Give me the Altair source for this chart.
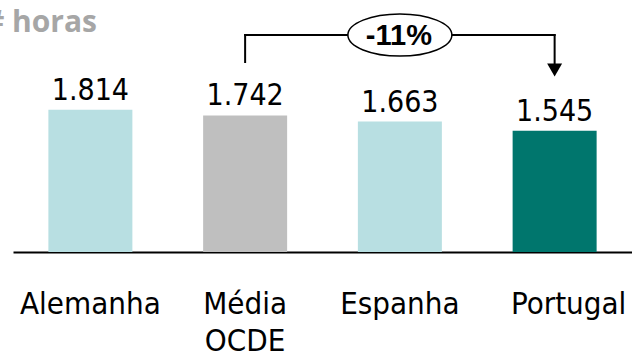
import altair as alt
import pandas as pd

# Annual hours worked per worker
categories = ["Alemanha", "Média OCDE", "Espanha", "Portugal"]
hours = [1814, 1742, 1663, 1545]
bar_colors = ["#B8DFE2", "#BFBFBF", "#B8DFE2", "#00766D"]
unit_title = "# horas"

# Comparison drawn by the bracket: OCDE average -> Portugal
ref_idx, target_idx = 1, 3
change_pct = round((hours[target_idx] - hours[ref_idx]) / hours[ref_idx] * 100)
change_label = f"{change_pct}%"

# Vertical extent of the value axis and bracket levels (in hours)
Y_MAX = 3214
BRACKET_LEVEL = 2767
BRACKET_START = 2423
ARROW_STEM_END = 2410
ARROW_HEAD = 2321
CHANGE_TEXT_BASE = 2634

FONT = "DejaVu Sans Condensed, DejaVu Sans"
BOLD_FONT = "Liberation Sans, Arial"

bars_df = pd.DataFrame({
    "pais": categories,
    "horas": hours,
    "rotulo": [f"{v:,}".replace(",", ".") for v in hours],
})

yscale = alt.Scale(domain=[0, Y_MAX], nice=False, zero=True)
xaxis = alt.Axis(
    title=None, labelAngle=0, labelFont=FONT, labelFontSize=31,
    labelColor="black", labelPadding=61, labelBaseline="alphabetic",
    labelLineHeight=37, labelExpr="split(datum.label, ' ')",
    labelOffset={"condition": {"test": f"datum.value == '{categories[-1]}'", "value": 14}, "value": 0},
    ticks=False, tickSize=0, domainColor="black", domainWidth=2,
    grid=False, labelOverlap=False, labelLimit=400,
)
xscale = alt.Scale(domain=categories, paddingInner=0, paddingOuter=0)


def xcat(field):
    return alt.X(field, type="nominal", scale=xscale, sort=categories, axis=xaxis)


def yval(field):
    return alt.Y(field, type="quantitative", scale=yscale, axis=None)


base = alt.Chart(bars_df).encode(x=xcat("pais"), y=yval("horas"))

bars = base.mark_bar(size=84).encode(
    color=alt.Color("pais:N", scale=alt.Scale(domain=categories, range=bar_colors), legend=None)
)

values = base.mark_text(
    font=FONT, fontSize=30, color="black", baseline="alphabetic", dy=-10
).encode(text="rotulo:N")

bracket_df = pd.DataFrame({
    "de": [categories[ref_idx]],
    "para": [categories[target_idx]],
    "meio": [categories[(ref_idx + target_idx) // 2]],
    "nivel": [BRACKET_LEVEL],
    "inicio": [BRACKET_START],
    "haste": [ARROW_STEM_END],
    "seta": [ARROW_HEAD],
    "texto_base": [CHANGE_TEXT_BASE],
    "texto": [change_label],
})
bk = alt.Chart(bracket_df)
rule_style = dict(color="black", strokeWidth=2, strokeCap="square")

left_leg = bk.mark_rule(**rule_style).encode(
    x=xcat("de"), y=yval("inicio"), y2="nivel:Q",
)
top_bar = bk.mark_rule(**rule_style).encode(
    x=xcat("de"), x2="para:N", y=yval("nivel"),
)
right_leg = bk.mark_rule(**rule_style).encode(
    x=xcat("para"), y=yval("nivel"), y2="haste:Q",
)
arrow = bk.mark_point(
    shape="triangle-down", size=225, filled=True, color="black", opacity=1
).encode(x=xcat("para"), y=yval("seta"))

ellipse = bk.mark_point(
    shape="M-1,0A1,0.405,0,1,1,1,0A1,0.405,0,1,1,-1,0Z",
    size=10816, filled=False, fill="white", fillOpacity=1,
    stroke="black", strokeWidth=1.5, opacity=1,
).encode(x=xcat("meio"), y=yval("nivel"))

change_text = bk.mark_text(
    font=BOLD_FONT, fontSize=29, fontWeight="bold", color="black",
    baseline="alphabetic", align="center", dx=-1,
).encode(x=xcat("meio"), y=yval("texto_base"), text="texto:N")

title = alt.Chart(pd.DataFrame({"t": [unit_title]})).mark_text(
    font="Open Sans", fontSize=30, fontWeight="bold", color="#A6A6A6",
    align="right", baseline="alphabetic",
).encode(x=alt.value(84), y=alt.value(32), text="t:N")

chart = alt.layer(
    bars, values, left_leg, top_bar, right_leg, arrow, ellipse, change_text, title
).properties(
    width=619, height=252,
    autosize=alt.AutoSizeParams(type="none"),
    padding={"left": 13, "top": 0, "right": 0, "bottom": 100},
).configure(background="white").configure_view(strokeWidth=0, strokeOpacity=0)

chart.save("out.html", embed_options={"renderer": "svg", "actions": False})
